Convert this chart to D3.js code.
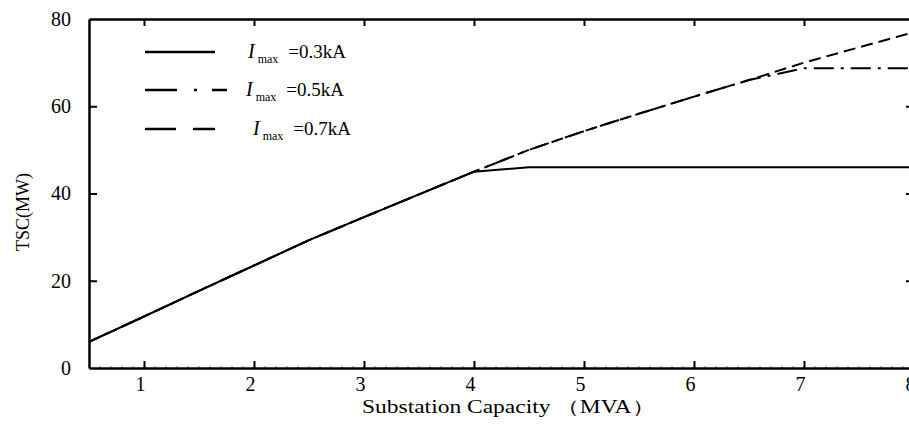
<!DOCTYPE html>
<html>
<head>
<meta charset="utf-8">
<style>
  body { margin: 0; background: #fff; }
  svg { display: block; font-family: "Liberation Serif", "Times New Roman", serif; }
</style>
</head>
<body>
<script src="https://d3js.org/d3.v7.min.js"></script>
<svg width="909" height="430"></svg>
<script type="text/javascript">
    // substation capacity (MVA)
    var capacity = [0.5, 1, 1.5, 2, 2.5, 3, 3.5, 4, 4.5, 5, 5.5, 6, 6.5, 7, 7.5, 8];
    // TSC (MW) for each current limit
    var tsc03 = [6, 11.8, 17.7, 23.5, 29.3, 34.6, 39.8, 45, 46, 46, 46, 46, 46, 46, 46, 46];
    var tsc05 = [6, 11.8, 17.7, 23.5, 29.3, 34.6, 39.8, 45, 50, 54.3, 58.3, 62.2, 66, 68.7, 68.7, 68.7];
    var tsc07 = [6, 11.8, 17.7, 23.5, 29.3, 34.6, 39.8, 45, 50, 54.3, 58.3, 62.2, 66, 70, 73.5, 77];
    var seriesNames = ["0.3kA", "0.5kA", "0.7kA"];
    var xTicks = [1, 2, 3, 4, 5, 6, 7, 8];
    var yTicks = [0, 20, 40, 60, 80];

    var svg = d3.select("svg");
    // plot frame (px)
    var pL = 89, pR = 914, pT = 19, pB = 368;

    var x = d3.scaleLinear().domain([0.5, 8]).range([pL, pR]);
    var y = d3.scaleLinear().domain([0, 80]).range([pB, pT]);

    // tiny minor ticks along top and bottom
    var minor = d3.range(0.6, 8, 0.1);
    [pB, pT].forEach(function(yy) {
        var dir = yy === pB ? -2 : 2;
        svg.append("g").selectAll("line").data(minor).enter().append("line")
            .attr("x1", function(d) { return x(d); }).attr("x2", function(d) { return x(d); })
            .attr("y1", yy).attr("y2", yy + dir)
            .style("stroke", "#777").style("stroke-width", 1);
    });

    // axes, ticks pointing inward
    var xb = svg.append("g").attr("transform", "translate(0," + pB + ")")
        .call(d3.axisBottom(x).tickValues(xTicks).tickSizeInner(-7).tickSizeOuter(0).tickPadding(9));
    var xt = svg.append("g").attr("transform", "translate(0," + pT + ")")
        .call(d3.axisTop(x).tickValues(xTicks).tickSizeInner(-7).tickSizeOuter(0).tickFormat(""));
    var yl = svg.append("g").attr("transform", "translate(" + pL + ",0)")
        .call(d3.axisLeft(y).tickValues(yTicks).tickSizeInner(-8).tickSizeOuter(0).tickPadding(18));
    var yr = svg.append("g").attr("transform", "translate(" + pR + ",0)")
        .call(d3.axisRight(y).tickValues(yTicks).tickSizeInner(-8).tickSizeOuter(0).tickFormat(""));

    [xb, xt, yl, yr].forEach(function(g) {
        g.select(".domain").style("stroke", "#000").style("stroke-width", 2.5);
        g.selectAll(".tick line").style("stroke", "#000").style("stroke-width", 2);
        g.selectAll("text").style("font-family", "Liberation Serif, Times New Roman, serif").style("font-size", "20px").style("fill", "#000");
    });
    yl.selectAll(".tick").filter(function(d) { return d === 0 || d === 80; }).select("line").remove();
    yr.selectAll(".tick").filter(function(d) { return d === 0 || d === 80; }).select("line").remove();
    xb.selectAll("text").attr("dx", "-4");

    // axis titles
    svg.append("text")
        .attr("x", 362).attr("y", 413)
        .attr("textLength", 293).attr("lengthAdjust", "spacingAndGlyphs")
        .style("font-size", "18px")
        .text("Substation Capacity （MVA）");
    svg.append("text")
        .attr("transform", "translate(29,212) rotate(-90)")
        .attr("text-anchor", "middle")
        .style("font-size", "18px")
        .text("TSC(MW)");

    // curves
    var series = [
        {vals: tsc07, dash: "12,6"},
        {vals: tsc05, dash: "20,7,3,7"},
        {vals: tsc03, dash: null}
    ];
    var line = d3.line()
        .x(function(d, i) { return x(capacity[i]); })
        .y(function(d) { return y(d); });
    svg.selectAll(".series").data(series).enter().append("path")
        .attr("class", "series")
        .attr("d", function(d) { return line(d.vals); })
        .style("fill", "none")
        .style("stroke", "#000")
        .style("stroke-width", 2)
        .style("stroke-dasharray", function(d) { return d.dash; });

    // legend
    var legend = [
        {name: seriesNames[0], dash: null, ly: 52, tx: 248, x2: 215},
        {name: seriesNames[1], dash: "32,17,3,15", ly: 90, tx: 246, x2: 227},
        {name: seriesNames[2], dash: "31,17", ly: 129, tx: 253, x2: 215}
    ];
    var lg = svg.selectAll(".leg").data(legend).enter().append("g").attr("class", "leg");
    lg.append("line")
        .attr("x1", 145).attr("x2", function(d) { return d.x2; })
        .attr("y1", function(d) { return d.ly; }).attr("y2", function(d) { return d.ly; })
        .style("stroke", "#000").style("stroke-width", 2.5)
        .style("stroke-dasharray", function(d) { return d.dash; });
    var lt = lg.append("text")
        .attr("x", function(d) { return d.tx; })
        .attr("y", function(d) { return d.ly + 6; })
        .style("font-size", "20px");
    lt.append("tspan").style("font-style", "italic").text("I");
    lt.append("tspan").attr("dx", 3).attr("dy", 5).style("font-size", "12px").text("max");
    lt.append("tspan").attr("dx", 10).attr("dy", -5).style("font-size", "19px")
        .text(function(d) { return "=" + d.name; });
</script>
</body>
</html>
